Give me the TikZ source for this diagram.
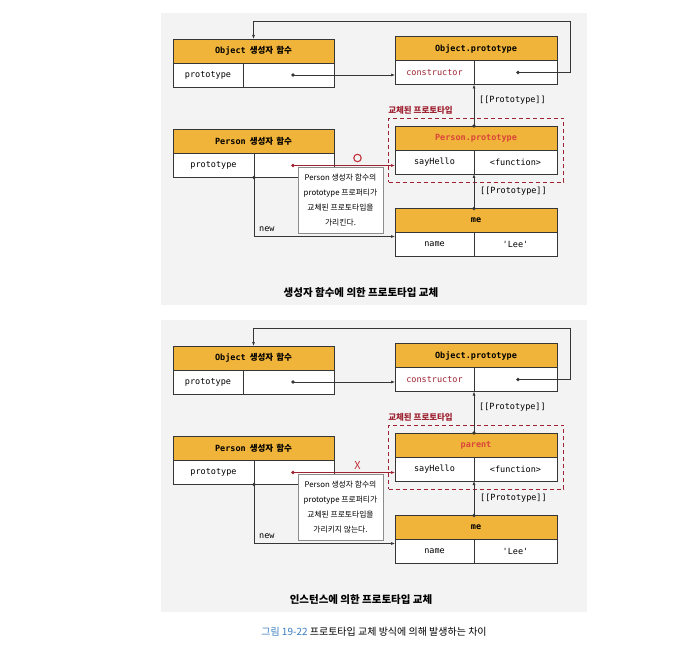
\documentclass[tikz,border=0pt]{standalone}
\usepackage{fontspec}
\setmainfont{Noto Sans CJK KR}
\setmonofont{DejaVu Sans Mono}
\usepackage{tikz}
\usetikzlibrary{arrows.meta, positioning, fit, shadows}
\definecolor{boxhead}{HTML}{F0B43A}
\definecolor{boxline}{HTML}{363636}
\definecolor{swapred}{HTML}{9E2231}
\definecolor{namered}{HTML}{D9443B}
\definecolor{markred}{HTML}{C0303A}
\definecolor{panelbg}{HTML}{F3F3F3}
\definecolor{figblue}{HTML}{3C7FC1}
\newcommand\code[1]{{\ttfamily #1}}

\begin{document}
\begin{tikzpicture}[
    x=1pt, y=-1pt,
    hdr/.style={rectangle, draw=boxline, fill=boxhead, minimum height=24pt, outer sep=0pt,
        inner sep=0pt, font=\fontsize{8.5}{10}\selectfont\bfseries, line width=0.6pt},
    cell/.style={rectangle, draw=boxline, fill=white, minimum height=24pt, outer sep=0pt,
        inner sep=0pt, font=\fontsize{8.5}{10}\selectfont\ttfamily, line width=0.6pt},
    lbl/.style={font=\fontsize{8.5}{10}\selectfont\ttfamily, inner sep=1pt},
    swapbox/.style={rectangle, draw=swapred, dashed, dash pattern=on 4pt off 3pt,
        line width=0.8pt, inner xsep=6.5pt, inner ysep=8pt},
    swaplbl/.style={font=\fontsize{8.5}{10}\selectfont\bfseries, text=swapred, inner sep=0pt},
    note/.style={rectangle, draw=black!45, fill=white, minimum width=85pt, minimum height=66pt,
        inner sep=0pt, align=center, font=\fontsize{7.8}{15}\selectfont, line width=0.5pt,
        drop shadow={shadow xshift=1pt, shadow yshift=-1pt, opacity=0.25}},
    okmark/.style={circle, draw=markred, line width=1.1pt, minimum size=7.5pt, inner sep=0pt},
    nomark/.style={minimum size=7.5pt, inner sep=0pt,
        label={[text=markred, font=\fontsize{11}{11}\selectfont, inner sep=0pt]center:X}},
    capt/.style={font=\fontsize{10.5}{12}\selectfont\bfseries},
    link/.style={-{Latex[length=4pt, width=3pt]}, draw=boxline, line width=0.6pt},
    redlink/.style={-{Latex[length=4pt, width=3pt]}, draw=swapred, line width=0.6pt}
]
    \fill[white] (0,0) rectangle (684,644);
    \useasboundingbox (0,0) rectangle (684,644);

    \foreach \dy/\ptitle/\mk/\noteend/\capttext in {
        0/{Person.prototype}/okmark/{가리킨다.}/{생성자 함수에 의한 프로토타입 교체},
        307/{parent}/nomark/{가리키지 않는다.}/{인스턴스에 의한 프로토타입 교체}}
    {
    \begin{scope}[shift={(0,\dy)}]
        \fill[panelbg] (161,13) rectangle (587,305);

        % constructor functions
        \node[hdr, minimum width=161pt, anchor=north west] (of-h) at (173,39) {\code{Object}\hspace{4pt}생성자\hspace{3pt}함수};
        \node[cell, minimum width=70pt, anchor=north west] (of-k) at (of-h.south west) {prototype};
        \node[cell, minimum width=91pt, right=0pt of of-k] (of-v) {};

        \node[hdr, minimum width=161pt, anchor=north west] (pf-h) at (173,129.5) {\code{Person}\hspace{4pt}생성자\hspace{3pt}함수};
        \node[cell, minimum width=81pt, anchor=north west] (pf-k) at (pf-h.south west) {prototype};
        \node[cell, minimum width=80pt, right=0pt of pf-k] (pf-v) {};

        % prototype objects
        \node[hdr, minimum width=162pt, anchor=north west] (op-h) at (395,36.5) {\code{Object.prototype}};
        \node[cell, minimum width=79pt, anchor=north west, text=swapred] (op-k) at (op-h.south west) {constructor};
        \node[cell, minimum width=83pt, right=0pt of op-k] (op-v) {};

        \node[hdr, minimum width=162pt, anchor=north west] (pp-h) at (395,126) {\code{\textcolor{namered}{\ptitle}}};
        \node[cell, minimum width=79pt, anchor=north west] (pp-k) at (pp-h.south west) {sayHello};
        \node[cell, minimum width=83pt, right=0pt of pp-k] (pp-v) {<function>};

        \node[hdr, minimum width=162pt, anchor=north west] (me-h) at (395,208.5) {\code{me}};
        \node[cell, minimum width=79pt, anchor=north west] (me-k) at (me-h.south west) {name};
        \node[cell, minimum width=83pt, right=0pt of me-k] (me-v) {'Lee'};

        \node[swapbox, fit=(pp-h)(pp-k)(pp-v)] (swap) {};
        \node[swaplbl, anchor=south west, yshift=3pt] (swap-l) at (swap.north west) {교체된 프로토타입};

        % dots and turns
        \coordinate (od) at (293,75);
        \coordinate (opd) at (518,72.5);
        \coordinate (pd) at (293,165.5);
        \coordinate (loop) at (570,21);
        \coordinate (ppd) at (pp-k.east |- pp-h.north);
        \coordinate (med) at (me-k.east |- me-h.north);
        \coordinate (pfd) at (pf-k.south east);

        \draw[link] (opd) -| (loop) -| (of-h.north);
        \draw[link] (od) -- (od -| op-k.west);
        \draw[link] (ppd) -- (op-k.south east);
        \draw[link] (med) -- (pp-k.south east);
        \draw[link] (pfd) |- ([yshift=-4pt]me-k.north west);
        \draw[redlink] (pd) -- (pd -| pp-k.west);
        \foreach \d in {od, opd, ppd, med, pfd}
            \fill[boxline] (\d) circle (1.8pt);
        \fill[swapred] (pd) circle (1.8pt);

        \node[lbl, anchor=west] (pl-1) at (478,100) {[[Prototype]]};
        \node[lbl, anchor=west] (pl-2) at (479,191) {[[Prototype]]};
        \node[lbl, anchor=west] (new-l) at (258,229.5) {new};

        \node[\mk] (mark) at (357.5,158) {};
        \node[note] (memo) at (340.5,200) {Person 생성자 함수의\\prototype 프로퍼티가\\교체된 프로토타입을\\\noteend};

        \node[capt] (cap) at (361,293) {\capttext};
    \end{scope}
    }

    \node[font=\fontsize{10}{12}\selectfont] (fig) at (374,631.5) {\textcolor{figblue}{그림 19-22} 프로토타입 교체 방식에 의해 발생하는 차이};
\end{tikzpicture}
\end{document}
